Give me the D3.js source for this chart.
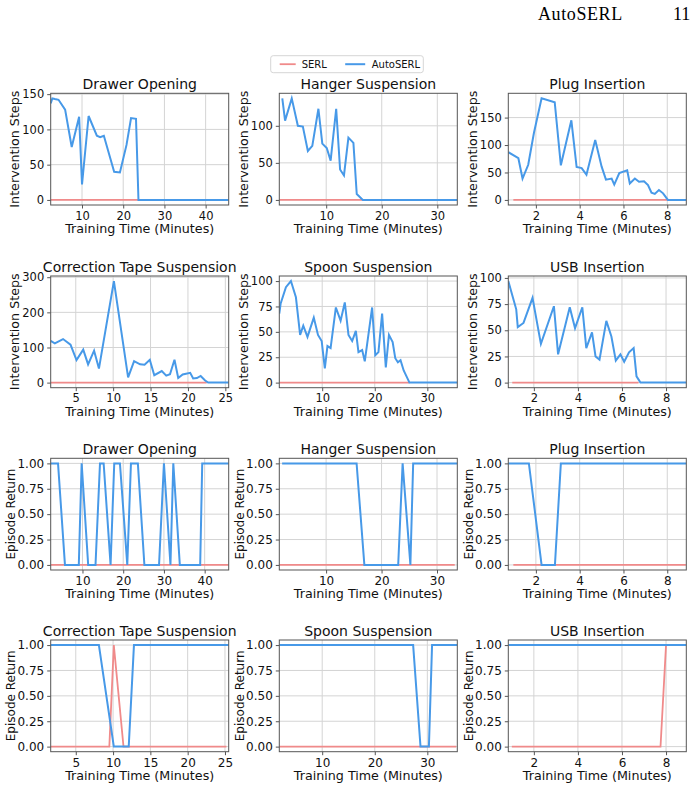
<!DOCTYPE html>
<html><head><meta charset="utf-8">
<script src="https://cdn.jsdelivr.net/npm/d3@7"></script>
<style>body{margin:0;background:#fff}svg{display:block}</style>
</head><body><svg id="c" width="697" height="789"></svg>
<script>
// ---------- DATA ----------
const seriesNames = ["SERL", "AutoSERL"];
const titles = ["Drawer Opening", "Hanger Suspension", "Plug Insertion",
                "Correction Tape Suspension", "Spoon Suspension", "USB Insertion"];
const yLabelSteps = "Intervention Steps";
const yLabelReturn = "Episode Return";
const xLabel = "Training Time (Minutes)";

// Intervention steps (AutoSERL)
const drawerStepsT = [2.4,2.8,3.4,4.3,5.9,7.5,9.3,10.0,11.6,13.6,14.4,15.3,17.8,19.2,20.8,21.9,23.1,23.7,45.6];
const drawerStepsAuto = [137,144,143,142,128,75,118,22,119,91,89,91,40,39,78,116,115,0,0];
const drawerStepsSerlT = [2.4,23.7];
const drawerStepsSerl = [0,0];

const hangerStepsT = [2.1,2.6,3.8,4.9,5.8,6.7,7.5,8.6,9.3,10.1,10.8,11.8,12.5,13.2,14.0,14.9,15.5,16.6,33.6];
const hangerStepsAuto = [137,107,137,100,99,66,73,123,76,70,53,123,41,33,84,77,8,0,0];
const hangerStepsSerlT = [1.56,16.6];
const hangerStepsSerl = [0,0];

const plugStepsT = [0.74,1.2,1.39,1.65,1.91,2.26,2.86,3.14,3.62,3.86,4.09,4.31,4.71,5.0,5.2,5.46,5.58,5.81,6.17,6.29,6.52,6.71,6.94,7.12,7.28,7.43,7.62,7.81,8.03,8.87];
const plugStepsAuto = [87,76,39,64,122,185,178,63,145,60,58,46,109,61,37,39,28,49,54,30,39,33,34,27,13,11,18,12,0,0];
const plugStepsSerlT = [0.97,8.03];
const plugStepsSerl = [0,0];

const tapeStepsT = [1.65,2.2,3.3,4.3,5.1,6.0,6.65,7.45,8.1,10.1,12.0,12.8,13.6,14.2,14.9,15.5,16.5,17.1,17.6,18.2,18.7,19.3,20.3,20.7,21.2,21.7,22.3,22.7,25.45];
const tapeStepsAuto = [119,112,124,108,64,94,52,91,40,289,15,61,52,51,65,21,33,20,24,65,13,23,28,12,13,19,6,0,0];
const tapeStepsSerlT = [1.65,22.5];
const tapeStepsSerl = [0,0];

const spoonStepsT = [1.84,2.1,3.1,4.05,5.0,5.8,6.4,7.2,8.4,9.2,9.9,10.5,11.0,11.6,12.6,13.5,14.3,15.0,15.7,16.4,16.9,17.6,18.1,19.5,20.1,20.7,21.4,22.1,22.7,23.4,23.9,24.4,24.9,25.5,26.6,35.7];
const spoonStepsAuto = [68,78,94,100,84,47,56,45,64,47,41,14,36,34,74,61,79,47,41,51,30,32,21,74,27,30,68,15,47,40,24,20,22,12,0,0];
const spoonStepsSerlT = [1.84,26.6];
const spoonStepsSerl = [0,0];

const usbStepsT = [0.84,1.2,1.27,1.53,1.94,2.32,2.91,3.1,3.63,3.87,4.2,4.38,4.64,4.8,4.98,5.29,5.52,5.72,5.93,6.1,6.32,6.53,6.66,6.84,8.92];
const usbStepsAuto = [97,70,53,57,81,37,73,27,72,52,72,33,48,25,22,59,44,21,27,20,29,33,6,0,0];
const usbStepsSerlT = [1.02,6.75];
const usbStepsSerl = [0,0];

// Episode return
const drawerRetT = [2.2,4.0,5.7,9.1,9.8,11.4,13.2,14.3,15.2,16.9,17.8,19.2,21.0,21.9,23.6,25.2,28.8,30.0,31.6,32.3,33.9,38.9,39.4,45.9];
const drawerRetAuto = [1,1,0,0,1,0,0,1,1,0,1,1,0,1,1,0,0,1,0,1,0,0,1,1];
const drawerRetSerlT = [2.2,45.9];
const drawerRetSerl = [0,0];

const hangerRetT = [2.07,15.5,16.9,23.0,23.8,25.2,25.7,33.66];
const hangerRetAuto = [1,1,0,0,1,0,1,1];
const hangerRetSerlT = [1.56,33.2];
const hangerRetSerl = [0,0];

const plugRetT = [0.74,1.68,2.26,2.87,3.14,8.87];
const plugRetAuto = [1,1,0,0,1,1];
const plugRetSerlT = [0.97,8.85];
const plugRetSerl = [0,0];

const tapeRetT = [1.64,8.1,10.1,12.1,12.8,25.5];
const tapeRetAuto = [1,1,0,0,1,1];
const tapeRetSerlT = [1.64,9.5,10.1,11.4,25.2];
const tapeRetSerl = [0,0,1,0,0];

const spoonRetT = [1.84,27.3,28.7,30.3,30.9,35.7];
const spoonRetAuto = [1,1,0,0,1,1];
const spoonRetSerlT = [1.84,35.5];
const spoonRetSerl = [0,0];

const usbRetT = [0.84,8.92];
const usbRetAuto = [1,1];
const usbRetSerlT = [1.0,7.75,8.0];
const usbRetSerl = [0,0,1];

// Tick values
const xTicksDrawer = [10,20,30,40];
const xTicksHanger = [10,20,30];
const xTicksPlug = [2,4,6,8];
const xTicksTape = [5,10,15,20,25];
const xTicksSpoon = [10,20,30];
const xTicksUsb = [2,4,6,8];
const yTicksDrawer = [0,50,100,150];
const yTicksHanger = [0,50,100];
const yTicksPlug = [0,50,100,150];
const yTicksTape = [0,100,200,300];
const yTicksSpoon = [0,25,50,75,100];
const yTicksUsb = [0,25,50,75,100];
const yTicksReturn = [0,0.25,0.5,0.75,1];

// ---------- PANELS ----------
const stepPanels = [
  [drawerStepsT, drawerStepsAuto, drawerStepsSerlT, drawerStepsSerl, xTicksDrawer, yTicksDrawer],
  [hangerStepsT, hangerStepsAuto, hangerStepsSerlT, hangerStepsSerl, xTicksHanger, yTicksHanger],
  [plugStepsT, plugStepsAuto, plugStepsSerlT, plugStepsSerl, xTicksPlug, yTicksPlug],
  [tapeStepsT, tapeStepsAuto, tapeStepsSerlT, tapeStepsSerl, xTicksTape, yTicksTape],
  [spoonStepsT, spoonStepsAuto, spoonStepsSerlT, spoonStepsSerl, xTicksSpoon, yTicksSpoon],
  [usbStepsT, usbStepsAuto, usbStepsSerlT, usbStepsSerl, xTicksUsb, yTicksUsb]
];
const retPanels = [
  [drawerRetT, drawerRetAuto, drawerRetSerlT, drawerRetSerl, xTicksDrawer, yTicksReturn],
  [hangerRetT, hangerRetAuto, hangerRetSerlT, hangerRetSerl, xTicksHanger, yTicksReturn],
  [plugRetT, plugRetAuto, plugRetSerlT, plugRetSerl, xTicksPlug, yTicksReturn],
  [tapeRetT, tapeRetAuto, tapeRetSerlT, tapeRetSerl, xTicksTape, yTicksReturn],
  [spoonRetT, spoonRetAuto, spoonRetSerlT, spoonRetSerl, xTicksSpoon, yTicksReturn],
  [usbRetT, usbRetAuto, usbRetSerlT, usbRetSerl, xTicksUsb, yTicksReturn]
];
const panels = [];
stepPanels.forEach((p,i)=>panels.push({title:titles[i], ylabel:yLabelSteps, ret:false,
  at:p[0], ay:p[1], st:p[2], sy:p[3], xt:p[4], yt:p[5]}));
retPanels.forEach((p,i)=>panels.push({title:titles[i], ylabel:yLabelReturn, ret:true,
  at:p[0], ay:p[1], st:p[2], sy:p[3], xt:p[4], yt:p[5]}));

// ---------- STYLE / LAYOUT ----------
const FONT = "DejaVu Sans, sans-serif";
const BLUE = "#4799e8";
const RED = "#f08a8a";
const SPINE = "#555";
const GRID = "#d4d4d4";
const colLeft = [50.7, 279.3, 508.3];
const rowTop = [93.3, 276, 458.3, 640];
const PW = 178, PH = 111.7;

const svg = d3.select("#c");

// header
svg.append("text").attr("x", 538).attr("y", 19.5)
  .style("font-family","Liberation Serif, serif").style("font-size","18px")
  .style("letter-spacing","0.6px").attr("fill","#000").text("AutoSERL");
svg.append("text").attr("x", 673).attr("y", 19.5)
  .style("font-family","Liberation Serif, serif").style("font-size","18px")
  .attr("fill","#000").text("11");

panels.forEach((p, i) => {
  const col = i % 3, row = Math.floor(i / 3);
  const x0 = colLeft[col], y0 = rowTop[row];
  const g = svg.append("g").attr("transform", `translate(${x0},${y0})`);

  const xExt = d3.extent(p.at.concat(p.st));
  const yAll = p.ay.concat(p.sy);
  const ymin = d3.min(yAll), ymax = d3.max(yAll);
  const pad = (ymax - ymin) * 0.05;
  const x = d3.scaleLinear().domain(xExt).range([0, PW]);
  const y = d3.scaleLinear().domain([ymin - pad, ymax + pad]).range([PH, 0]);

  // grid
  g.append("g").selectAll("line").data(p.xt).join("line")
    .attr("x1", d=>x(d)).attr("x2", d=>x(d)).attr("y1",0).attr("y2",PH)
    .attr("stroke", GRID).attr("stroke-width",1);
  g.append("g").selectAll("line").data(p.yt).join("line")
    .attr("y1", d=>y(d)).attr("y2", d=>y(d)).attr("x1",0).attr("x2",PW)
    .attr("stroke", GRID).attr("stroke-width",1);

  // lines
  const clipId = "clip"+i;
  g.append("clipPath").attr("id", clipId).append("rect")
    .attr("x",0).attr("y",0).attr("width",PW).attr("height",PH);
  const line = d3.line().x(d=>x(d[0])).y(d=>y(d[1]));
  g.append("path").datum(p.st.map((t,k)=>[t,p.sy[k]]))
    .attr("d", line).attr("fill","none").attr("stroke", RED).attr("stroke-width",1.8)
    .attr("clip-path", `url(#${clipId})`);
  g.append("path").datum(p.at.map((t,k)=>[t,p.ay[k]]))
    .attr("d", line).attr("fill","none").attr("stroke", BLUE).attr("stroke-width",2)
    .attr("stroke-linejoin","miter").attr("clip-path", `url(#${clipId})`);

  // axes
  const tickFont = p.ret ? "12px" : "11.5px";
  const fmt = p.ret ? d3.format(".2f") : d3.format("d");
  const xa = g.append("g").attr("transform", `translate(0,${PH})`)
    .call(d3.axisBottom(x).tickValues(p.xt).tickSize(3.5).tickPadding(3).tickSizeOuter(0));
  const ya = g.append("g")
    .call(d3.axisLeft(y).tickValues(p.yt).tickFormat(fmt).tickSize(3.5).tickPadding(3).tickSizeOuter(0));
  [xa, ya].forEach(a => {
    a.select(".domain").remove();
    a.selectAll("line").attr("stroke", SPINE);
    a.selectAll("text").style("font-family", FONT).style("font-size", tickFont).attr("fill","#111");
  });
  // frame
  g.append("rect").attr("x",0).attr("y",0).attr("width",PW).attr("height",PH)
    .attr("fill","none").attr("stroke", SPINE).attr("stroke-width",1);

  // title
  g.append("text").attr("x", PW/2).attr("y", -4).attr("text-anchor","middle")
    .style("font-family", FONT).style("font-size","14px").attr("fill","#111").text(p.title);
  // x label
  g.append("text").attr("x", PW/2).attr("y", PH + 28.5).attr("text-anchor","middle")
    .style("font-family", FONT).style("font-size","12.7px").attr("fill","#111").text(xLabel);
  // y label
  const yOff = p.ret ? 39.5 : 36;
  g.append("text").attr("transform", `translate(${-yOff},${PH/2}) rotate(-90)`)
    .attr("text-anchor","middle").attr("dominant-baseline","central")
    .style("font-family", FONT).style("font-size", p.ret ? "12px" : "12.7px")
    .attr("fill","#111").text(p.ylabel);
});

// legend
const lg = svg.append("g").attr("transform","translate(270.7,55.7)");
lg.append("rect").attr("width",152.6).attr("height",17).attr("rx",2.5)
  .attr("fill","#fff").attr("stroke","#d6d6d6").attr("stroke-width",1);
const legendItems = [
  {name: seriesNames[0], color: RED, x1: 9, x2: 25, tx: 31},
  {name: seriesNames[1], color: BLUE, x1: 74.5, x2: 94.5, tx: 101}
];
legendItems.forEach(it => {
  lg.append("line").attr("x1",it.x1).attr("x2",it.x2).attr("y1",8.5).attr("y2",8.5)
    .attr("stroke", it.color).attr("stroke-width", it.color===RED?1.8:2);
  lg.append("text").attr("x", it.tx).attr("y", 8.5).attr("dominant-baseline","central")
    .style("font-family", FONT).style("font-size","10px").attr("fill","#111").text(it.name);
});
</script></body></html>
